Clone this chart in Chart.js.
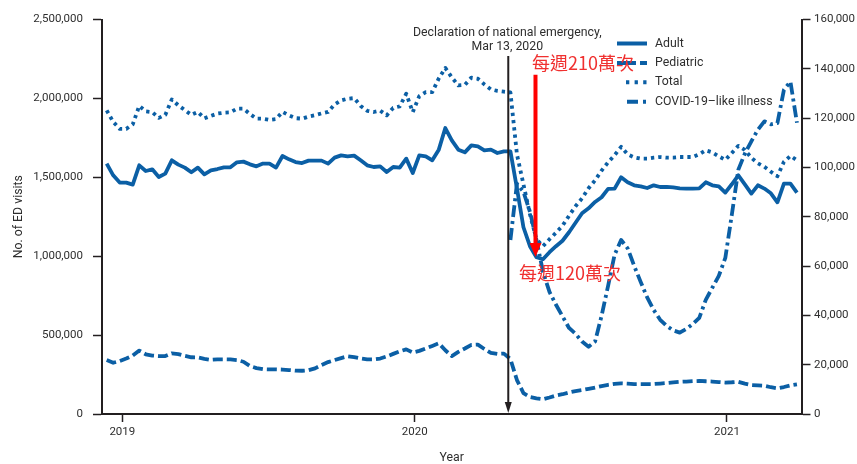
<!DOCTYPE html>
<html>
<head>
<meta charset="utf-8">
<script src="https://cdn.jsdelivr.net/npm/chart.js@4.4.1/dist/chart.umd.min.js"></script>
<style>
  html, body { margin: 0; padding: 0; background: #fff; }
  #edChart { display: block; }
</style>
</head>
<body>
<canvas id="edChart" width="857" height="464"></canvas>
<script>
"use strict";
// weekly ED visits, index 0 = last week of Dec 2018
var adultVisits = [
  1586700, 1512600, 1466400, 1466400, 1453800, 1575900, 1539800, 1550600, 1501900, 1523400,
  1607600, 1580300, 1561400, 1531600, 1561400, 1519000, 1544300, 1552500, 1563300, 1563300,
  1594900, 1599300, 1582300, 1569600, 1586700, 1586700, 1561400, 1634800, 1613900, 1596800,
  1590500, 1605700, 1605700, 1605700, 1586700, 1624600, 1639200, 1632900, 1637300, 1607600,
  1575900, 1565200, 1569600, 1533500, 1565200, 1561400, 1618300, 1527200, 1639200, 1632900,
  1607600, 1675300, 1812000, 1734100, 1675300, 1658200, 1702500, 1696200, 1670900, 1675300,
  1653800, 1664500, 1664500,
  1430400, 1183500, 1063300, 993700, 981000, 1025300, 1063300, 1098100, 1151900, 1212000,
  1272100, 1303800, 1343600, 1373400, 1427200, 1428500, 1500000, 1468300, 1449300, 1443000,
  1432300, 1449300, 1438600, 1439800, 1436700, 1430400, 1428500, 1428500, 1430400, 1468300,
  1449300, 1443000, 1403100, 1455700, 1512600, 1455700, 1396800, 1449300, 1428500, 1398700,
  1341700, 1460100, 1460100, 1403100
];
var pediatricVisits = [
  341800, 324700, 335400, 351300, 370200, 401900, 378500, 370200, 367100, 367100,
  384200, 379700, 368300, 359500, 358900, 350000, 343000, 346200, 346200, 345600,
  341800, 331000, 303800, 291100, 284200, 282900, 282900, 281600, 278500, 274700,
  274000, 277200, 289200, 310100, 329100, 341800, 354400, 365800, 360800, 352500,
  346200, 346200, 351300, 364600, 381000, 396800, 409500, 389900, 400000, 415200,
  431600, 448100, 403800, 367100, 393700, 415200, 438000, 439900, 412000, 387300,
  381000, 382900, 348100,
  215200, 132900, 107600, 99400, 93700, 104400, 117100, 125300, 136700, 145600,
  151900, 159500, 167700, 177200, 184800, 191100, 194300, 192400, 189900, 189900,
  189900, 189900, 193000, 196200, 200000, 203800, 205700, 208200, 209500, 207600,
  205700, 202500, 199400, 201300, 204400, 193000, 183500, 181000, 179100, 169600,
  162700, 170900, 181600, 188000
];
var totalVisits = [
  1924000, 1851200, 1806900, 1806900, 1835400, 1952500, 1917700, 1913300, 1876500, 1895500,
  1993600, 1955700, 1925900, 1895500, 1914500, 1873400, 1889200, 1903800, 1909500, 1911400,
  1934800, 1934800, 1901200, 1872100, 1871500, 1863900, 1868900, 1914500, 1892400, 1874700,
  1871500, 1884800, 1893600, 1905000, 1914500, 1962000, 1987300, 1998100, 2001900, 1952500,
  1921500, 1913900, 1922800, 1892400, 1939800, 1949300, 2029700, 1913300, 2014500, 2039800,
  2039800, 2126500, 2193000, 2132900, 2082200, 2085400, 2131600, 2124600, 2088600, 2056900,
  2047400, 2042400, 2037900,
  1645500, 1455700, 1265800, 1107600, 1063300, 1107600, 1148700, 1193000, 1256300, 1316400,
  1367100, 1430400, 1481000, 1542400, 1594900, 1640500, 1693000, 1645500, 1626600, 1618300,
  1618300, 1624600, 1628500, 1624600, 1624600, 1628500, 1628500, 1628500, 1645500, 1670900,
  1658200, 1632900, 1610700, 1653800, 1699300, 1674000, 1623400, 1588600, 1566400, 1534800,
  1506300, 1598100, 1636000, 1607600
];
// right axis; no data before the emergency week
var covidLikeVisits = [
  null, null, null, null, null, null, null, null, null, null,
  null, null, null, null, null, null, null, null, null, null,
  null, null, null, null, null, null, null, null, null, null,
  null, null, null, null, null, null, null, null, null, null,
  null, null, null, null, null, null, null, null, null, null,
  null, null, null, null, null, null, null, null, null, null,
  null, null,
  70600, 93400, 90100, 82000, 70600, 57700, 49500, 44300, 39600, 34900,
  32500, 29400, 27300, 29400, 39800, 52000, 64600, 70600, 67200, 60100,
  53600, 47300, 42200, 38200, 35700, 33900, 33000, 34500, 36500, 39000,
  46300, 51200, 56000, 63300, 80800, 99100, 105600, 110600, 115300, 118700,
  117500, 118000, 131500, 134800, 118100
];
var seriesNames = ['Adult', 'Pediatric', 'Total', 'COVID-19\u2013like illness'];
var yearTickWeeks = [2.4, 47.3, 95.25];
var yearTickLabels = ['2019', '2020', '2021'];
var emergencyWeek = 61.67;
var dropArrowWeek = 65.85;
var dropFrom = 2150000, dropTo = 995000;

var blue = '#0b5fa5';
var ink = '#231f20';
var textColor = '#2e2e2e';
var latin = 'Roboto, "Liberation Sans", sans-serif';
var cjk = '"Noto Sans CJK TC", "Noto Sans CJK SC", sans-serif';

function toPoints(arr) {
  return arr.map(function (v, i) { return { x: i, y: v }; });
}

var dashes = [[], [10, 4], [3.3, 4], [12, 4, 3, 4]];
var legendDashes = [[], [19, 4, 8, 4], [3.3, 5.3], [11, 5, 3, 20]];

var annotations = {
  id: 'edAnnotations',
  afterDatasetsDraw: function (chart) {
    var ctx = chart.ctx;
    var xs = chart.scales.x, yl = chart.scales.y;
    var area = chart.chartArea;
    ctx.save();

    // national emergency marker
    var ex = xs.getPixelForValue(emergencyWeek);
    ctx.strokeStyle = ink;
    ctx.lineWidth = 2;
    ctx.beginPath();
    ctx.moveTo(ex, 56);
    ctx.lineTo(ex, area.bottom - 8);
    ctx.stroke();
    ctx.fillStyle = ink;
    ctx.beginPath();
    ctx.moveTo(ex - 3.5, area.bottom - 12);
    ctx.lineTo(ex + 3.5, area.bottom - 12);
    ctx.lineTo(ex, area.bottom - 1);
    ctx.closePath();
    ctx.fill();
    ctx.font = '12.3px ' + latin;
    ctx.fillStyle = textColor;
    ctx.textAlign = 'center';
    ctx.textBaseline = 'middle';
    ctx.fillText('Declaration of national emergency,', ex - 1, 33);
    ctx.fillText('Mar 13, 2020', ex - 1, 47);

    // legend
    var rows = [43.5, 63, 82.3, 101.7];
    var starts = [617, 617, 626, 627];
    ctx.strokeStyle = blue;
    ctx.lineWidth = 4;
    for (var i = 0; i < seriesNames.length; i++) {
      ctx.setLineDash(legendDashes[i]);
      ctx.beginPath();
      ctx.moveTo(starts[i], rows[i]);
      ctx.lineTo(647, rows[i]);
      ctx.stroke();
      ctx.setLineDash([]);
      ctx.fillStyle = textColor;
      ctx.textAlign = 'left';
      ctx.fillText(seriesNames[i], 655, rows[i]);
    }

    // red arrow + labels
    var rx = xs.getPixelForValue(dropArrowWeek);
    var ry1 = yl.getPixelForValue(dropFrom);
    var ry2 = yl.getPixelForValue(dropTo);
    ctx.strokeStyle = '#ff0000';
    ctx.fillStyle = '#ff0000';
    ctx.lineWidth = 4;
    ctx.beginPath();
    ctx.moveTo(rx, ry1);
    ctx.lineTo(rx, ry2 - 12);
    ctx.stroke();
    ctx.beginPath();
    ctx.moveTo(rx - 6, ry2 - 14);
    ctx.lineTo(rx + 6, ry2 - 14);
    ctx.lineTo(rx, ry2);
    ctx.closePath();
    ctx.fill();
    ctx.font = '18px ' + cjk;
    ctx.fillStyle = '#f0302f';
    ctx.textAlign = 'left';
    ctx.fillText('每週210萬次', 532, 63);
    ctx.fillText('每週120萬次', 519, 273);
    ctx.restore();
  }
};

var tickFont = { family: latin, size: 11.5 };
var titleFont = { family: latin, size: 12.3, lineHeight: 1 };

var ctx = document.getElementById('edChart');
var edChart = new Chart(ctx, {
  type: 'line',
  data: {
    datasets: [
      { label: seriesNames[0], data: toPoints(adultVisits), yAxisID: 'y' },
      { label: seriesNames[1], data: toPoints(pediatricVisits), yAxisID: 'y', borderDash: dashes[1] },
      { label: seriesNames[2], data: toPoints(totalVisits), yAxisID: 'y', borderDash: dashes[2] },
      { label: seriesNames[3], data: toPoints(covidLikeVisits), yAxisID: 'y1', borderDash: dashes[3] }
    ]
  },
  options: {
    responsive: false,
    animation: false,
    devicePixelRatio: 1,
    layout: { padding: { top: 19.5, left: 0, right: 0, bottom: 0 } },
    elements: {
      point: { radius: 0 },
      line: { borderColor: blue, borderWidth: 3.8, tension: 0, fill: false, borderJoinStyle: 'round' }
    },
    plugins: {
      legend: { display: false },
      tooltip: { enabled: false }
    },
    scales: {
      x: {
        type: 'linear',
        min: -0.72,
        max: 106.7,
        bounds: 'data',
        afterBuildTicks: function (scale) {
          scale.ticks = yearTickWeeks.map(function (v) { return { value: v }; });
        },
        afterFit: function (scale) { scale.height = 50; },
        ticks: {
          autoSkip: false,
          maxRotation: 0,
          padding: 3,
          color: textColor,
          font: tickFont,
          callback: function (v, i) { return yearTickLabels[i]; }
        },
        grid: { display: true, drawOnChartArea: false, drawTicks: true, tickLength: 8, tickColor: ink, tickWidth: 1.5 },
        border: { display: true, color: ink, width: 2 },
        title: { display: true, text: 'Year', color: textColor, font: titleFont, padding: { top: 0, bottom: 0 } }
      },
      y: {
        position: 'left',
        min: 0,
        max: 2500000,
        afterFit: function (scale) { scale.width = 102; },
        ticks: {
          stepSize: 500000,
          padding: 10,
          color: textColor,
          font: tickFont,
          callback: function (v) { return v.toLocaleString('en-US'); }
        },
        grid: { display: true, drawOnChartArea: false, drawTicks: true, tickLength: 9, tickColor: ink, tickWidth: 1.5 },
        border: { display: true, color: ink, width: 2 },
        title: { display: true, text: 'No. of ED visits', color: textColor, font: titleFont, padding: { top: 13, bottom: 0 } }
      },
      y1: {
        position: 'right',
        min: 0,
        max: 160000,
        afterFit: function (scale) { scale.width = 55.5; },
        ticks: {
          stepSize: 20000,
          padding: 3.5,
          color: textColor,
          font: tickFont,
          callback: function (v) { return v.toLocaleString('en-US'); }
        },
        grid: { display: true, drawOnChartArea: false, drawTicks: true, tickLength: 9, tickColor: ink, tickWidth: 1.5 },
        border: { display: true, color: ink, width: 2 }
      }
    }
  },
  plugins: [annotations]
});
</script>
</body>
</html>
